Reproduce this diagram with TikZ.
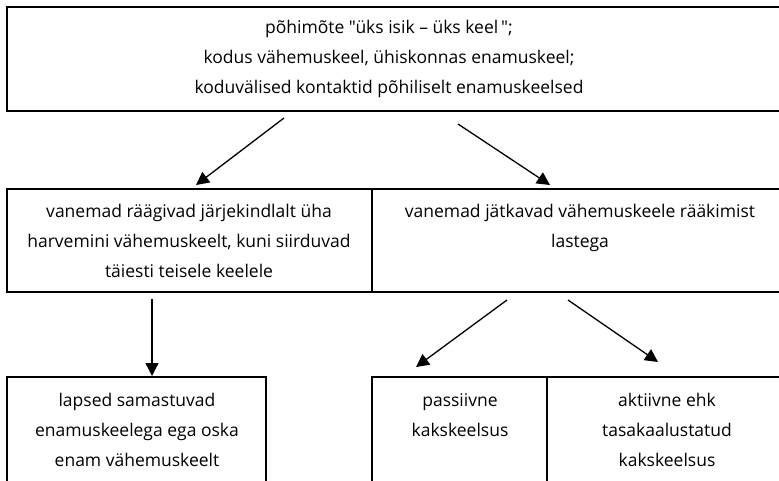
\documentclass[tikz,border=0pt]{standalone}
\usepackage{fontspec}
\setmainfont{Open Sans}
\newfontfamily\osans{Open Sans}
\usetikzlibrary{arrows.meta,calc}
\begin{document}
\begin{tikzpicture}[x=1pt,y=-1pt,
  box/.style={draw=black, line width=2pt, inner sep=0pt, outer sep=0pt, anchor=north west},
  txt/.style={align=center, inner sep=0pt, anchor=north, font=\osans\fontsize{17.5}{30}\selectfont},
  arr/.style={line width=1.3pt, -{Triangle[length=13pt,width=13pt]}}]
\useasboundingbox (0,0) rectangle (779,480);
\clip (0,0) rectangle (779,480);
% boxes
\node[box, minimum width=790pt, minimum height=104pt] (top) at (7,7) {};
\node[box, minimum width=365pt, minimum height=103pt] (midL) at (7,189) {};
\node[box, minimum width=425pt, minimum height=103pt] (midR) at (372,189) {};
\node[box, minimum width=259pt, minimum height=125pt] (botL) at (7,377) {};
\node[box, minimum width=175pt, minimum height=125pt] (botM) at (372,377) {};
\node[box, minimum width=250pt, minimum height=125pt] (botR) at (547,377) {};
% texts
\node[txt] (t0) at (389,20) {põhimõte "üks isik – üks keel\,";\\kodus vähemuskeel, ühiskonnas enamuskeel;\\koduvälised kontaktid põhiliselt enamuskeelsed};
\node[txt] (t1) at (189,204) {vanemad räägivad järjekindlalt üha\\harvemini vähemuskeelt, kuni siirduvad\\täiesti teisele keelele};
\node[txt] (t2) at (580,204) {vanemad jätkavad vähemuskeele rääkimist\\lastega};
\node[txt] (t3) at (137,393) {lapsed samastuvad\\enamuskeelega ega oska\\enam vähemuskeelt};
\node[txt] (t4) at (460,393) {passiivne\\kakskeelsus};
\node[txt] (t5) at (667,393) {aktiivne ehk\\tasakaalustatud\\kakskeelsus};
% arrows
\draw[arr] ($(top.south west)+(277,7)$) -- ($(midL.north west)+(189,-4)$);
\draw[arr] ($(top.south west)+(451,13)$) -- ($(midR.north west)+(178,-4)$);
\draw[arr] ($(midL.south west)+(145,7)$) -- ($(botL.north west)+(145,-1)$);
\draw[arr] ($(midR.south west)+(135,8)$) -- ($(botM.north west)+(44,-10)$);
\draw[arr] ($(midR.south west)+(196,8)$) -- ($(botR.north west)+(111,-15)$);
\end{tikzpicture}
\end{document}
